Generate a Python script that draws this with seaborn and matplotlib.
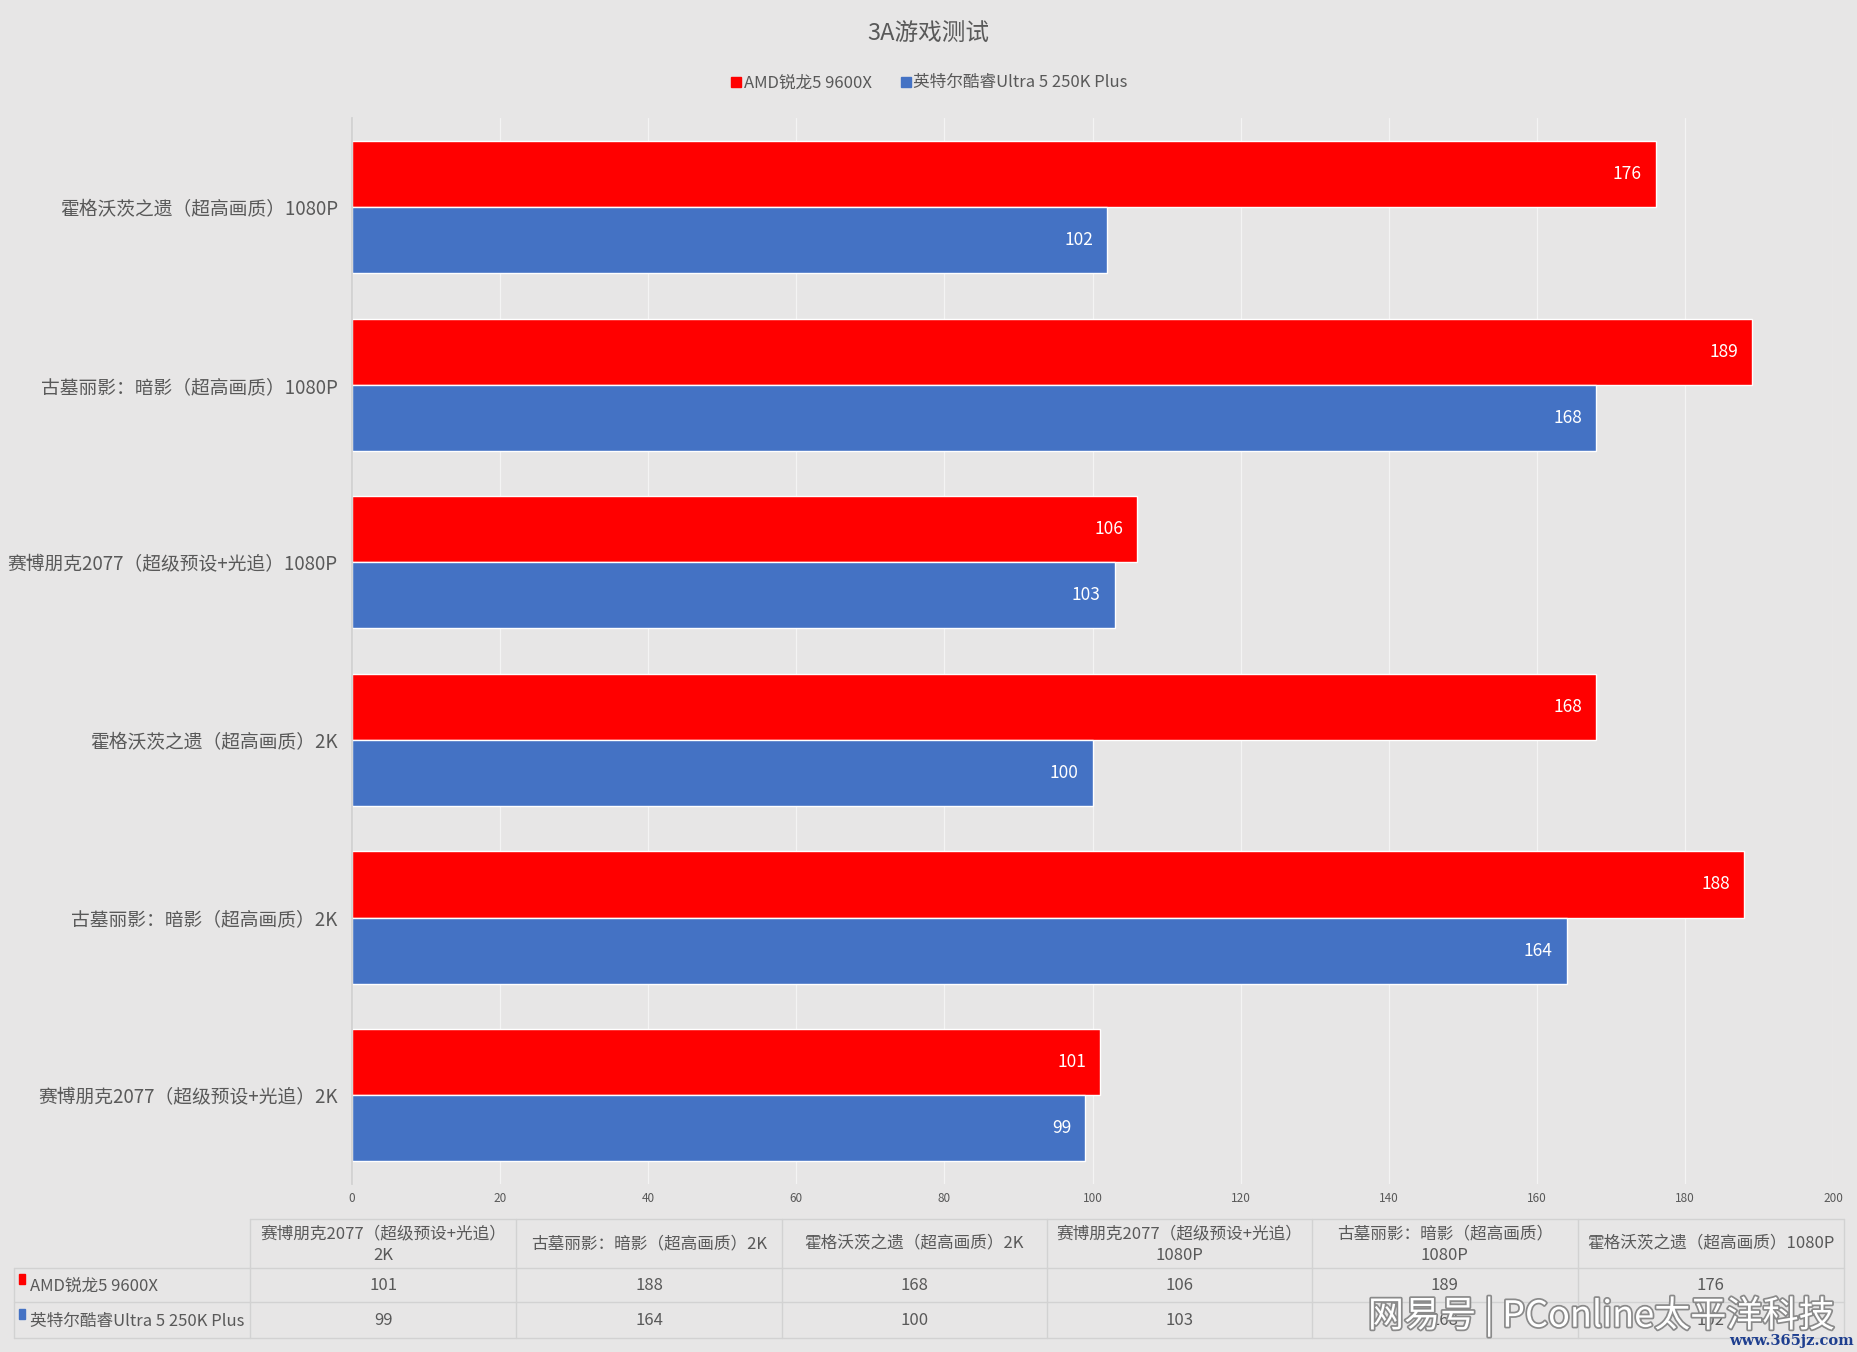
import pandas as pd
import seaborn as sns
import matplotlib.pyplot as plt
import matplotlib.patheffects as pe
from matplotlib.lines import Line2D
from matplotlib.patches import Rectangle

# 数据
games = ['霍格沃茨之遗（超高画质）1080P', '古墓丽影：暗影（超高画质）1080P',
         '赛博朋克2077（超级预设+光追）1080P', '霍格沃茨之遗（超高画质）2K',
         '古墓丽影：暗影（超高画质）2K', '赛博朋克2077（超级预设+光追）2K']
cpus = ['AMD锐龙5 9600X', '英特尔酷睿Ultra 5 250K Plus']
amd_fps = [176, 189, 106, 168, 188, 101]
intel_fps = [102, 168, 103, 100, 164, 99]
table_headers = ['赛博朋克2077（超级预设+光追）\n2K', '古墓丽影：暗影（超高画质）2K',
                 '霍格沃茨之遗（超高画质）2K', '赛博朋克2077（超级预设+光追）\n1080P',
                 '古墓丽影：暗影（超高画质）\n1080P', '霍格沃茨之遗（超高画质）1080P']
x_ticks = list(range(0, 201, 20))

colors = ['#FF0000', '#4472C4']
bg = '#E7E6E6'
txt = '#595959'

sns.set_theme(style='white')
plt.rcParams['font.family'] = ['Noto Sans CJK SC', 'DejaVu Sans']

df = pd.DataFrame({
    'game': games * 2,
    'cpu': [cpus[0]] * len(games) + [cpus[1]] * len(games),
    'fps': amd_fps + intel_fps,
})

fig = plt.figure(figsize=(18.57, 13.52), dpi=100, facecolor=bg)
ax = fig.add_axes([297 / 1568, 1 - 1000 / 1142, 1251 / 1568, 900 / 1142])
ax.set_facecolor(bg)

sns.barplot(data=df, x='fps', y='game', hue='cpu', order=games, hue_order=cpus,
            palette=colors, orient='h', width=0.745, saturation=1, ax=ax,
            legend=False, zorder=2)

for cont in ax.containers:
    labels = ax.bar_label(cont, fmt='%d', padding=-10, color='white', fontsize=12.5)
    for t in labels:
        t.set_ha('right')

ax.set_xlim(0, 200)
ax.set_xticks(x_ticks)
ax.set_xlabel('')
ax.set_ylabel('')
ax.grid(axis='x', color='#f4f4f4', linewidth=0.9, zorder=0)
ax.set_axisbelow(True)
ax.tick_params(axis='y', length=0, pad=10, labelsize=13.5, labelcolor=txt)
ax.tick_params(axis='x', length=0, pad=6, labelsize=8.5, labelcolor=txt)
for s in ['top', 'right', 'bottom']:
    ax.spines[s].set_visible(False)
ax.spines['left'].set_color('#d0d0d0')

fig.text(0.5, 1 - 28 / 1142, '3A游戏测试', ha='center', va='center', fontsize=17, color=txt)

handles = [Line2D([], [], marker='s', linestyle='', color=c, markersize=7) for c in colors]
fig.legend(handles, cpus, loc='center', bbox_to_anchor=(785 / 1568, 1 - 70 / 1142), ncol=2,
           frameon=False, handlelength=0.5, handletextpad=0.2, columnspacing=1.8,
           fontsize=12, labelcolor=txt)

# 数据表
tab = fig.add_axes([0, 0, 1, 1], zorder=-1)
tab.set_xlim(0, 1568)
tab.set_ylim(1142, 0)
tab.axis('off')
col_x = [12, 211, 436, 660, 884, 1108, 1332, 1557]
row_y = [1030, 1071, 1100, 1130]
line_c = '#d2d2d2'
tab.plot([211, 1557], [1030, 1030], color=line_c, lw=1)
for y in row_y[1:]:
    tab.plot([12, 1557], [y, y], color=line_c, lw=1)
for x in col_x[1:]:
    tab.plot([x, x], [1030, 1130], color=line_c, lw=1)
tab.plot([12, 12], [1071, 1130], color=line_c, lw=1)

for i, h in enumerate(table_headers):
    cx = (col_x[i + 1] + col_x[i + 2]) / 2
    tab.text(cx, 1051, h, ha='center', va='center', fontsize=12, color=txt, linespacing=1.35)
rows = [amd_fps[::-1], intel_fps[::-1]]
for r, (name, vals) in enumerate(zip(cpus, rows)):
    cy = (row_y[r + 1] + row_y[r + 2]) / 2
    tab.add_patch(Rectangle((16, cy - 9), 5, 8, color=colors[r]))
    tab.text(25, cy + 1, name, ha='left', va='center', fontsize=12, color=txt)
    for i, v in enumerate(vals):
        cx = (col_x[i + 1] + col_x[i + 2]) / 2
        tab.text(cx, cy, str(v), ha='center', va='center', fontsize=12, color=txt)

# 水印
fig.text(1155 / 1568, 1 - 1112 / 1142, '网易号 | PConline太平洋科技', ha='left', va='center',
         fontsize=26, color='white',
         path_effects=[pe.withStroke(linewidth=2.5, foreground='#8a8a8a')])
fig.text(1565 / 1568, 1 - 1133 / 1142, 'www.365jz.com', ha='right', va='center',
         fontsize=10.5, color='#1f3f8f', family='DejaVu Serif', weight='bold')

fig.savefig('out.png', dpi=100, facecolor=bg)
